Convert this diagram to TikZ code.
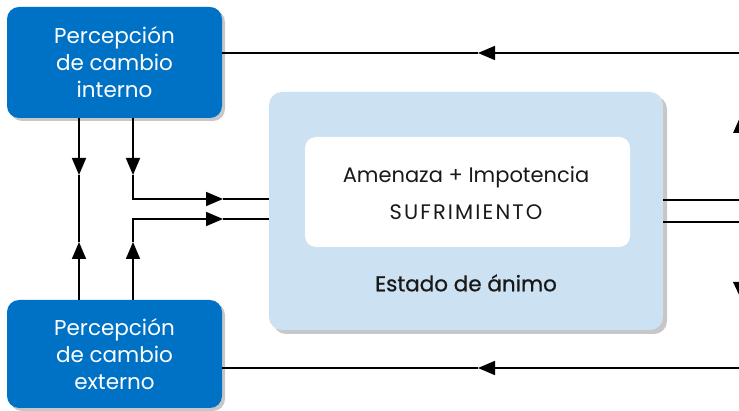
\documentclass[tikz,border=0pt]{standalone}
\usepackage{fontspec}
\setmainfont{Poppins}
\newfontfamily\medfont[FakeBold=0.8]{Poppins}
\usetikzlibrary{arrows.meta,shadows}
\definecolor{dblue}{RGB}{0,114,198}
\definecolor{lblue}{RGB}{204,226,242}
\definecolor{txt}{RGB}{25,25,25}
\begin{document}
\begin{tikzpicture}[x=1pt,y=-1pt,
  shad/.style={drop shadow={shadow xshift=3pt,shadow yshift=-3pt,opacity=0.22,fill=black}},
  percbox/.style={fill=dblue,rounded corners=12pt,minimum width=215pt,text=white,align=center,
    font=\fontsize{21.5}{27}\selectfont,inner sep=0pt,shad},
  midbox/.style={fill=lblue,rounded corners=13pt,minimum width=394pt,minimum height=238pt,inner sep=0pt,
    drop shadow={shadow xshift=4pt,shadow yshift=-4pt,opacity=0.22,fill=black}},
  innerbox/.style={fill=white,rounded corners=11pt,minimum width=325pt,minimum height=110pt,inner sep=0pt},
  lbl/.style={text=txt,font=\fontsize{21}{24}\selectfont,inner sep=0pt},
  conn/.style={line width=1.6pt,black},
  arr/.style={-{Triangle[length=17pt,width=14pt]}}]
\useasboundingbox (0,0) rectangle (739,411);
\clip (0,0) rectangle (739,411);
\fill[white] (0,0) rectangle (739,411);
% boxes
\node[percbox,minimum height=111pt] (top) at (114.5,62.5) {Percepción\\de cambio\\interno};
\node[percbox,minimum height=108pt] (bot) at (114.5,354) {Percepción\\de cambio\\externo};
\node[midbox] (mid) at (466,211) {};
\node[innerbox] (inn) at (467.5,192) {};
\node[lbl] (t1) at (466,177) {Amenaza + Impotencia};
\node[lbl,font=\fontsize{21}{24}\selectfont\addfontfeature{LetterSpace=10}] (t2) at (466,212) {SUFRIMIENTO};
\node[lbl,font=\medfont\fontsize{21.5}{24}\selectfont] (t3) at (466,283) {Estado de ánimo};
% coordinates
\coordinate (tr) at (745,53);
\coordinate (br) at (745,368);
\coordinate (a1) at (478,53);
\coordinate (a2) at (478,368);
\coordinate (r1) at (745,200);
\coordinate (r2) at (745,222);
\coordinate (d1) at (79,175);
\coordinate (d2) at (133,175);
\coordinate (u1) at (79,242);
\coordinate (u2) at (133,242);
\coordinate (h1) at (223,199);
\coordinate (h2) at (223,219);
% top & bottom return lines
\draw[conn,arr] (tr) -- (a1);
\draw[conn] (a1) -- (a1 -| top.east);
\draw[conn,arr] (br) -- (a2);
\draw[conn] (a2) -- (a2 -| bot.east);
% right outputs
\draw[conn] (r1 -| mid.east) -- (r1);
\draw[conn] (r2 -| mid.east) -- (r2);
% cut-off arrowheads at right edge
\fill[black] (733,133) -- (749,133) -- (741,115) -- cycle;
\fill[black] (733,282) -- (749,282) -- (741,299) -- cycle;
% left verticals
\draw[conn,arr] (top.south -| d1) -- (d1);
\draw[conn,arr] (top.south -| d2) -- (d2);
\draw[conn,arr] (bot.north -| u1) -- (u1);
\draw[conn,arr] (bot.north -| u2) -- (u2);
\draw[conn] (d1) -- (u1);
\draw[conn,arr] (d2) |- (h1);
\draw[conn,arr] (u2) |- (h2);
\draw[conn] (h1) -- (h1 -| mid.west);
\draw[conn] (h2) -- (h2 -| mid.west);
\end{tikzpicture}
\end{document}
